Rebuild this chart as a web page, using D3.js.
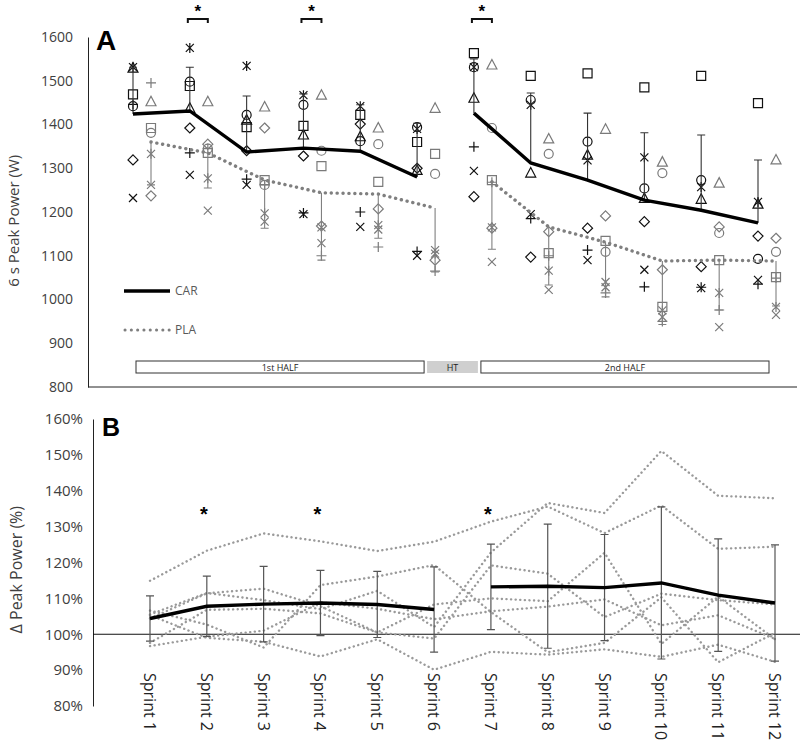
<!DOCTYPE html>
<meta charset="utf-8">
<title>Sprint peak power</title>
<script src="https://d3js.org/d3.v7.min.js"></script>
<style>
    body { margin: 0; background: #fff; }
    text { font-family: "Open Sans", sans-serif; }
</style>
<body>
<script>
    // Categories and ticks
    const sprints = ["Sprint 1", "Sprint 2", "Sprint 3", "Sprint 4", "Sprint 5", "Sprint 6",
                     "Sprint 7", "Sprint 8", "Sprint 9", "Sprint 10", "Sprint 11", "Sprint 12"];
    const powerTicks = [800, 900, 1000, 1100, 1200, 1300, 1400, 1500, 1600];
    const pctTicks   = [80, 90, 100, 110, 120, 130, 140, 150, 160];
    const sigSprints = ["Sprint 2", "Sprint 4", "Sprint 7"];

    // One marker per participant
    const markers = ["diamond", "square", "triangle", "x", "star", "circle", "plus"];

    // Individual 6 s peak power (W), same order as markers
    const carPower = [
        [1319, 1392, 1340, 1328, 1401, 1300, 1235, 1097, 1163, 1178, 1075, 1145],
        [1469, 1488, 1394, 1397, 1422, 1360, 1563, 1511, 1517, 1485, 1511, 1449],
        [1529, 1437, 1410, 1376, 1372, 1295, 1460, 1289, 1330, 1231, 1229, 1218],
        [1232, 1285, 1262, 1195, 1166, 1100, 1294, 1195, 1090, 1068, 1026, 1045],
        [1531, 1575, 1534, 1467, 1442, 1390, 1531, 1445, 1318, 1325, 1257, 1223],
        [1442, 1498, 1422, 1445, 1362, 1394, 1531, 1456, 1361, 1254, 1273, 1093],
        [1446, 1335, 1275, 1198, 1200, 1110, 1349, 1185, 1113, 1029, 1028, 1035]
    ];
    const plaPower = [
        [1237, 1355, 1392, 1168, 1207, 1090, 1163, 1155, 1191, 1068, 1166, 1140],
        [1392, 1335, 1273, 1305, 1269, 1333, 1273, 1106, 1134,  983, 1090, 1051],
        [1452, 1452, 1440, 1467, 1392, 1437, 1536, 1367, 1389, 1314, 1266, 1319],
        [1262, 1203, 1178, 1129, 1160, 1113, 1086, 1022, 1040,  960,  937,  965],
        [1333, 1277, 1197, 1165, 1170, 1105, 1165, 1066, 1028,  975, 1015,  983],
        [1381, 1345, 1262, 1340, 1355, 1287, 1392, 1333, 1109, 1289, 1152, 1109],
        [1495, 1345, 1262, 1100, 1120, 1065, 1268, 1100, 1015,  950,  976, 1049]
    ];

    // Group mean and SD (W)
    const carMean = [1424, 1431, 1337, 1346, 1339, 1280, 1426, 1312, 1273, 1227, 1204, 1175];
    const carSD   = [107, 100, 128, 124, 106, 123, 124, 160, 153, 154, 172, 144];
    const plaMean = [1360, 1335, 1273, 1244, 1241, 1209, 1269, 1166, 1131, 1088, 1090, 1088];
    const plaSD   = [98, 80, 110, 154, 101, 146, 154, 133, 125, 145, 114, 103];

    // Individual delta peak power (%), same order as markers
    const deltaPower = [
        [106.6, 102.7,  96.3, 113.7, 116.1, 119.3, 106.2,  95.0,  97.6, 110.3,  92.2, 100.4],
        [105.5, 111.5, 109.5, 107.0, 112.1, 102.0, 122.8, 136.6, 133.8, 151.1, 138.6, 137.9],
        [105.3,  99.0,  97.9,  93.8,  98.6,  90.1,  95.1,  94.3,  95.8,  93.7,  97.1,  92.3],
        [ 97.6, 106.8, 107.1, 105.8, 100.5,  98.8, 119.2, 116.9, 104.8, 111.3, 109.5, 108.3],
        [114.9, 123.3, 128.1, 125.9, 123.2, 125.8, 131.4, 135.6, 128.2, 135.9, 123.8, 124.4],
        [104.4, 111.4, 112.7, 107.8, 100.5, 108.3, 110.0, 109.2, 122.7,  97.3, 110.5,  98.6],
        [ 96.7,  99.3, 101.0, 108.9, 107.1, 104.2, 106.4, 107.7, 109.7, 102.5, 105.3,  98.7]
    ];
    const deltaMean = [104.4, 107.8, 108.4, 108.7, 108.3, 106.9, 113.2, 113.4, 113.0, 114.3, 110.9, 108.7];
    const deltaSD   = [6.3, 8.4, 10.5, 9.1, 9.2, 11.9, 11.9, 17.3, 14.8, 21.2, 15.7, 16.2];

    const width = 800, height = 744;
    const svg = d3.select("body").append("svg")
        .attr("width", width)
        .attr("height", height);

    const halves = [d3.range(0, 6), d3.range(6, 12)];   // line breaks at half time

    const markerPath = (type) => {
        switch (type) {
            case "diamond":  return "M0,-5L5,0L0,5L-5,0Z";
            case "square":   return "M-4.5,-4.5h9v9h-9Z";
            case "triangle": return "M0,-5.5L5,4L-5,4Z";
            case "x":        return "M-4,-4L4,4M-4,4L4,-4";
            case "star":     return "M-4,-4L4,4M-4,4L4,-4M0,-5V5";
            case "circle":   return "M4.5,0A4.5,4.5 0 1,1 -4.5,0A4.5,4.5 0 1,1 4.5,0";
            case "plus":     return "M-5,0H5M0,-5V5";
        }
    };

    /* ---------------- Panel A ---------------- */
    const xA = d3.scalePoint().domain(sprints).range([142, 767]);
    const yA = d3.scaleLinear().domain([800, 1600]).range([387, 37]);
    const off = 9;   // CAR left of centre, PLA right

    const axisA = svg.append("g")
        .attr("transform", "translate(88,0)")
        .call(d3.axisLeft(yA).tickValues(powerTicks).tickSize(0).tickPadding(15).tickFormat(d3.format("d")));
    axisA.select(".domain").attr("stroke", "#222");
    axisA.selectAll("text").style("font-size", "14px").attr("fill", "#404040")
        .style("font-family", "Open Sans, sans-serif");

    svg.append("line")
        .attr("x1", 88).attr("x2", 797)
        .attr("y1", yA(800)).attr("y2", yA(800))
        .attr("stroke", "#222");

    svg.append("text")
        .attr("transform", "translate(19," + yA(1180) + ") rotate(-90)")
        .attr("text-anchor", "middle")
        .style("font-size", "15px").attr("fill", "#404040")
        .text("6 s Peak Power (W)");

    svg.append("text").attr("x", 96).attr("y", 50)
        .style("font-family", "Liberation Sans, Arial, sans-serif")
        .attr("font-weight", "bold").style("font-size", "28px").text("A");

    // half-time boxes
    const boxes = [
        { label: "1st HALF", x0: xA("Sprint 1") - 6, x1: xA("Sprint 6") - 2, fill: "#fff", stroke: "#333" },
        { label: "HT",       x0: xA("Sprint 6") + 1, x1: xA("Sprint 7") - 5, fill: "#cfcfcf", stroke: "none" },
        { label: "2nd HALF", x0: xA("Sprint 7") - 2, x1: xA("Sprint 12") + 2, fill: "#fff", stroke: "#333" }
    ];
    const boxG = svg.append("g").selectAll("g").data(boxes).enter().append("g");
    boxG.append("rect")
        .attr("x", d => d.x0).attr("width", d => d.x1 - d.x0)
        .attr("y", 361).attr("height", 12)
        .attr("fill", d => d.fill).attr("stroke", d => d.stroke);
    boxG.append("text")
        .attr("x", d => (d.x0 + d.x1) / 2).attr("y", 370.5)
        .attr("text-anchor", "middle").style("font-size", "9px").attr("fill", "#222")
        .text(d => d.label);

    // individual markers
    const markG = svg.append("g");
    markers.forEach((m, i) => {
        sprints.forEach((s, j) => {
            markG.append("path")
                .attr("d", markerPath(m))
                .attr("transform", "translate(" + (xA(s) + off) + "," + yA(plaPower[i][j]) + ")")
                .attr("fill", "none").attr("stroke", "#7a7a7a").attr("stroke-width", 1.2);
            markG.append("path")
                .attr("d", markerPath(m))
                .attr("transform", "translate(" + (xA(s) - off) + "," + yA(carPower[i][j]) + ")")
                .attr("fill", "none").attr("stroke", "#111").attr("stroke-width", 1.2);
        });
    });

    // error bars: CAR up, PLA down
    const errA = svg.append("g");
    sprints.forEach((s, j) => {
        const xc = xA(s) - off, xp = xA(s) + off;
        errA.append("path")
            .attr("d", "M" + xc + "," + yA(carMean[j]) + "V" + yA(carMean[j] + carSD[j]) +
                       "M" + (xc - 4) + "," + yA(carMean[j] + carSD[j]) + "H" + (xc + 4))
            .attr("stroke", "#333").attr("stroke-width", 1.1).attr("fill", "none");
        errA.append("path")
            .attr("d", "M" + xp + "," + yA(plaMean[j]) + "V" + yA(plaMean[j] - plaSD[j]) +
                       "M" + (xp - 4) + "," + yA(plaMean[j] - plaSD[j]) + "H" + (xp + 4))
            .attr("stroke", "#808080").attr("stroke-width", 1.1).attr("fill", "none");
    });

    // mean lines
    const carLine = d3.line().x(j => xA(sprints[j]) - off).y(j => yA(carMean[j]));
    const plaLine = d3.line().x(j => xA(sprints[j]) + off).y(j => yA(plaMean[j]));
    halves.forEach(h => {
        svg.append("path").attr("d", plaLine(h))
            .attr("fill", "none").attr("stroke", "#7f7f7f").attr("stroke-width", 3.4)
            .attr("stroke-linecap", "round").attr("stroke-dasharray", "0.1 5.8");
        svg.append("path").attr("d", carLine(h))
            .attr("fill", "none").attr("stroke", "#000").attr("stroke-width", 3.4);
    });

    // legend
    svg.append("line").attr("x1", 124).attr("x2", 170).attr("y1", 291).attr("y2", 291)
        .attr("stroke", "#000").attr("stroke-width", 3.4);
    svg.append("text").attr("x", 175).attr("y", 295).style("font-size", "12px").attr("fill", "#595959").text("CAR");
    svg.append("line").attr("x1", 125).attr("x2", 170).attr("y1", 330).attr("y2", 330)
        .attr("stroke", "#7f7f7f").attr("stroke-width", 3).attr("stroke-linecap", "round")
        .attr("stroke-dasharray", "0.1 6.2");
    svg.append("text").attr("x", 175).attr("y", 334).style("font-size", "12px").attr("fill", "#595959").text("PLA");

    // significance brackets
    sigSprints.forEach(s => {
        const x0 = xA(s) - off - 2, x1 = xA(s) + off;
        svg.append("path")
            .attr("d", "M" + x0 + ",23V19H" + x1 + "V23")
            .attr("fill", "none").attr("stroke", "#111").attr("stroke-width", 2);
        svg.append("text").attr("x", (x0 + x1) / 2).attr("y", 17)
            .attr("text-anchor", "middle").attr("font-weight", "bold").style("font-size", "17px")
            .style("font-family", "Liberation Sans, Arial, sans-serif").text("*");
    });

    /* ---------------- Panel B ---------------- */
    const xB = d3.scalePoint().domain(sprints).range([150, 775]);
    const yB = d3.scaleLinear().domain([80, 160]).range([706, 419]);

    const axisB = svg.append("g")
        .attr("transform", "translate(93,0)")
        .call(d3.axisLeft(yB).tickValues(pctTicks).tickSize(0).tickPadding(10).tickFormat(d => d + "%"));
    axisB.select(".domain").attr("stroke", "#222");
    axisB.selectAll("text").style("font-size", "15px").attr("fill", "#404040")
        .style("font-family", "Open Sans, sans-serif");

    svg.append("line")
        .attr("x1", 93).attr("x2", 800)
        .attr("y1", yB(100)).attr("y2", yB(100))
        .attr("stroke", "#111").attr("stroke-width", 1.2);

    svg.append("text")
        .attr("transform", "translate(22," + yB(118) + ") rotate(-90)")
        .attr("text-anchor", "middle")
        .style("font-size", "16px").attr("fill", "#404040")
        .text("Δ Peak Power (%)");

    svg.append("text").attr("x", 102).attr("y", 436)
        .style("font-family", "Liberation Sans, Arial, sans-serif")
        .attr("font-weight", "bold").style("font-size", "25px").text("B");

    // individual dotted lines
    const indLine = d3.line().x((d, j) => xB(sprints[j])).y(d => yB(d));
    svg.append("g").selectAll("path").data(deltaPower).enter().append("path")
        .attr("d", indLine)
        .attr("fill", "none").attr("stroke", "#9a9a9a").attr("stroke-width", 2.4)
        .attr("stroke-linecap", "round").attr("stroke-dasharray", "0.1 4.5");

    // error bars +/- SD
    const errB = svg.append("g");
    sprints.forEach((s, j) => {
        const x = xB(s), lo = yB(deltaMean[j] - deltaSD[j]), hi = yB(deltaMean[j] + deltaSD[j]);
        errB.append("path")
            .attr("d", "M" + x + "," + lo + "V" + hi +
                       "M" + (x - 4) + "," + hi + "H" + (x + 4) +
                       "M" + (x - 4) + "," + lo + "H" + (x + 4))
            .attr("stroke", "#555").attr("stroke-width", 1.2).attr("fill", "none");
    });

    const meanLineB = d3.line().x(j => xB(sprints[j])).y(j => yB(deltaMean[j]));
    halves.forEach(h => {
        svg.append("path").attr("d", meanLineB(h))
            .attr("fill", "none").attr("stroke", "#000").attr("stroke-width", 3.4);
    });

    sigSprints.forEach(s => {
        svg.append("text").attr("x", xB(s) - 3).attr("y", 521)
            .attr("text-anchor", "middle").attr("font-weight", "bold").style("font-size", "20px")
            .style("font-family", "Liberation Sans, Arial, sans-serif").text("*");
    });

    // rotated sprint labels
    svg.append("g").selectAll("text").data(sprints).enter().append("text")
        .attr("transform", d => "translate(" + xB(d) + ",673) rotate(90)")
        .attr("dominant-baseline", "central")
        .style("font-size", "16px").attr("fill", "#222")
        .text(d => d);
</script>
</body>
